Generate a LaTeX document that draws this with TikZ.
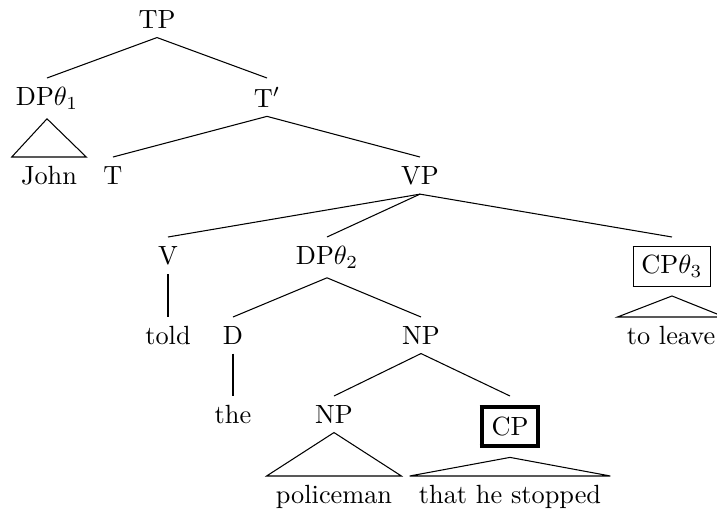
\documentclass[tikz,border=0pt]{standalone}
\usepackage{tikz}
\tikzset{
  cat/.style={anchor=north, inner sep=3.33pt},
  br/.style={thin},
}
\newcommand{\heavybox}[1]{{\setlength{\fboxrule}{1.5pt}\fbox{#1}}}

\begin{document}
\begin{tikzpicture}[x=0.38pt, y=-0.38pt]
\useasboundingbox (0,0) rectangle (717,510);

%% categories, row by row
\node[cat] (tp)     at (157,1)   {TP};
\node[cat] (dpa)    at (47,78)   {DP$\theta_1$};
\node[cat] (tbar)   at (267,78)  {T$'$};
\node[cat] (john)   at (49,157)  {John};
\node[cat] (t)      at (113,157) {T};
\node[cat] (vp)     at (420,157) {VP};
\node[cat] (v)      at (168,237) {V};
\node[cat] (dpb)    at (327,237) {DP$\theta_2$};
\node[cat] (cpc)    at (672,237) {\fbox{CP$\theta_3$}};
\node[cat] (told)   at (168,317) {told};
\node[cat] (d)      at (233,317) {D};
\node[cat] (np)     at (421,317) {NP};
\node[cat] (leave)  at (671,317) {to leave};
\node[cat] (the)    at (233,396) {the};
\node[cat] (npb)    at (334,396) {NP};
\node[cat] (cpb)    at (510,396) {\heavybox{CP}};
\node[cat] (police) at (334,476) {policeman};
\node[cat] (that)   at (510,476) {that he stopped};

%% branches
\foreach \p/\c in {tp/dpa, tp/tbar, tbar/t, tbar/vp, vp/v, vp/dpb, vp/cpc,
                   v/told, dpb/d, dpb/np, d/the, np/npb, np/cpb}
  \draw[br] (\p.south) -- (\c.north);

%% roofs
\foreach \p/\c in {dpa/john, cpc/leave, npb/police, cpb/that}
  \draw[br] (\p.south) -- (\c.north west) -- (\c.north east) -- cycle;

\end{tikzpicture}
\end{document}
